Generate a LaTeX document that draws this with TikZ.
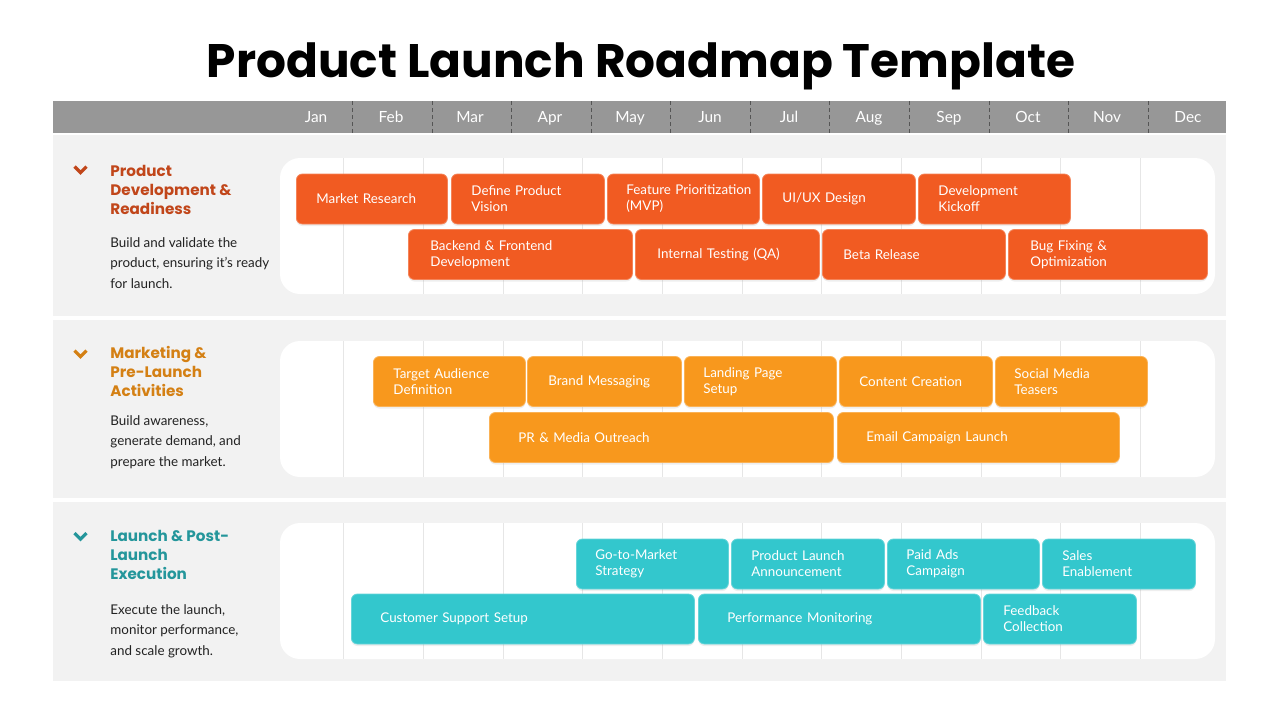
\documentclass[tikz,border=0pt]{standalone}
\usepackage{fontspec}
\setmainfont{Lato}
\newfontfamily\headfont{Poppins}
\usetikzlibrary{shadows}

\definecolor{devred}{RGB}{241,91,34}
\definecolor{mktorange}{RGB}{248,152,29}
\definecolor{lchteal}{RGB}{51,199,205}
\definecolor{devhead}{RGB}{193,70,26}
\definecolor{mkthead}{RGB}{212,128,20}
\definecolor{lchhead}{RGB}{36,150,155}
\definecolor{bargray}{RGB}{151,151,151}
\definecolor{bandgray}{RGB}{242,242,242}
\definecolor{gridgray}{RGB}{230,230,230}
\definecolor{sepgray}{RGB}{85,85,85}
\definecolor{desctext}{RGB}{34,34,34}

\begin{document}
\begin{tikzpicture}[x=0.5pt,y=-0.5pt,
  band/.style={fill=bandgray},
  panel/.style={fill=white,rounded corners=10pt},
  gridln/.style={draw=gridgray,line width=0.4pt},
  monthsep/.style={draw=sepgray,dash pattern=on 2pt off 1.5pt,line width=0.5pt},
  month/.style={text=white,inner sep=0pt,anchor=base,font=\fontsize{7.7}{9}\selectfont},
  taskbar/.style={rounded corners=3pt,text=white,align=left,anchor=west,
    minimum height=25pt,inner ysep=0pt,inner xsep=10pt,font=\fontsize{6.7}{8}\selectfont,
    drop shadow={opacity=0.13,shadow xshift=0pt,shadow yshift=-1pt}},
  devbar/.style={taskbar,fill=devred,draw=devred!75!white,line width=0.4pt},
  mktbar/.style={taskbar,fill=mktorange,draw=mktorange!75!white,line width=0.4pt},
  lchbar/.style={taskbar,fill=lchteal,draw=lchteal!75!white,line width=0.4pt},
  head/.style={anchor=base west,align=left,inner sep=0pt,font=\headfont\bfseries\fontsize{7.6}{9.5}\selectfont},
  desc/.style={anchor=base west,align=left,inner sep=0pt,text=desctext,font=\fontsize{6.7}{10.25}\selectfont},
  chev/.style={line width=1.6pt,line join=miter}]
  \useasboundingbox (0,0) rectangle (1280,720);
  \node[anchor=base,inner sep=0pt,font=\headfont\bfseries\fontsize{23.5}{28}\selectfont] (title) at (641,77) {Product Launch Roadmap Template};

  % month header
  \fill[bargray] (53,101) rectangle (1226,133);
  \foreach \x in {352,432,511,591,670,750,829,909,989,1068,1148}
    \draw[monthsep] (\x,101) -- (\x,133);
  \foreach \m/\x [count=\i] in {Jan/316,Feb/391,Mar/470,Apr/550,May/630,Jun/710,Jul/789,Aug/869,Sep/949,Oct/1028,Nov/1107,Dec/1188}
    \node[month] (m\i) at (\x,122) {\m};

  % bands and panels
  \fill[band] (53,135) rectangle (1226,316);
  \fill[band] (53,320) rectangle (1226,498);
  \fill[band] (53,502) rectangle (1226,681);
  \foreach \y in {158,341,523}{
    \fill[panel] (280,\y) rectangle (1215,\y+136);
    \foreach \x in {343,423,503,582,662,742,821,901,981,1060,1140}
      \draw[gridln] (\x,\y) -- (\x,\y+136);
  }

  % product development
  \draw[chev,devhead] (74.5,166.5) -- (80.5,172.5) -- (86.5,166.5);
  \node[head,text=devhead] (devh) at (110,214) {Product\\Development \&\\Readiness};
  \node[desc] (devd) at (110,288) {Build and validate the\\product, ensuring it's ready\\for launch.};
  \node[devbar,text width=55.5pt] (mr) at (296,199) {Market Research};
  \node[devbar,text width=56.5pt] (dpv) at (451,199) {Define Product\\Vision};
  \node[devbar,text width=57pt,inner xsep=9.5pt] (fp) at (607,199) {\mbox{Feature Prioritization}\\(MVP)};
  \node[devbar,text width=56.5pt] (ux) at (762,199) {UI/UX Design};
  \node[devbar,text width=56pt] (dk) at (918,199) {Development\\Kickoff};
  \node[devbar,text width=90pt,inner xsep=11pt] (bfd) at (408,254.5) {Backend \& Frontend\\Development};
  \node[devbar,text width=70pt,inner xsep=11pt] (itq) at (635,254.5) {Internal Testing (QA)};
  \node[devbar,text width=70.5pt,inner xsep=10.5pt] (br) at (822,254.5) {Beta Release};
  \node[devbar,text width=77.5pt,inner xsep=11pt] (bfo) at (1008,254.5) {Bug Fixing \&\\Optimization};

  % marketing
  \draw[chev,mkthead] (74.5,350.5) -- (80.5,356.5) -- (86.5,350.5);
  \node[head,text=mkthead] (mkth) at (110,396) {Marketing \&\\Pre-Launch\\Activities};
  \node[desc] (mktd) at (110,466) {Build awareness,\\generate demand, and\\prepare the market.};
  \node[mktbar,text width=56pt] (tad) at (373,381.5) {Target Audience\\Definition};
  \node[mktbar,text width=56pt,inner xsep=10.5pt] (bm) at (527,381.5) {Brand Messaging};
  \node[mktbar,text width=57pt,inner xsep=9.5pt] (lps) at (684,381.5) {Landing Page\\Setup};
  \node[mktbar,text width=56.5pt] (cc) at (839,381.5) {Content Creation};
  \node[mktbar,text width=57pt,inner xsep=9.5pt] (smt) at (995,381.5) {Social Media\\Teasers};
  \node[mktbar,text width=143pt,inner xsep=14.5pt] (prm) at (489,437.5) {PR \& Media Outreach};
  \node[mktbar,text width=112pt,inner xsep=14.5pt] (ecl) at (837,437.5) {Email Campaign Launch};

  % launch
  \draw[chev,lchhead] (74.5,533) -- (80.5,539) -- (86.5,533);
  \node[head,text=lchhead] (lchh) at (110,579) {Launch \& Post-\\Launch\\Execution};
  \node[desc] (lchd) at (110,655) {Execute the launch,\\monitor performance,\\and scale growth.};
  \node[lchbar,text width=57pt,inner xsep=9.5pt] (gtm) at (576,564) {Go-to-Market\\Strategy};
  \node[lchbar,text width=56.5pt] (pla) at (731,564) {Product Launch\\Announcement};
  \node[lchbar,text width=57pt,inner xsep=9.5pt] (pac) at (887,564) {Paid Ads\\Campaign};
  \node[lchbar,text width=56.5pt] (se) at (1042,564) {Sales\\Enablement};
  \node[lchbar,text width=142.5pt,inner xsep=14.5pt] (css) at (351,619) {Customer Support Setup};
  \node[lchbar,text width=112pt,inner xsep=14.5pt] (pm) at (698,619) {Performance Monitoring};
  \node[lchbar,text width=56.5pt] (fc) at (983,619) {Feedback\\Collection};
\end{tikzpicture}
\end{document}
